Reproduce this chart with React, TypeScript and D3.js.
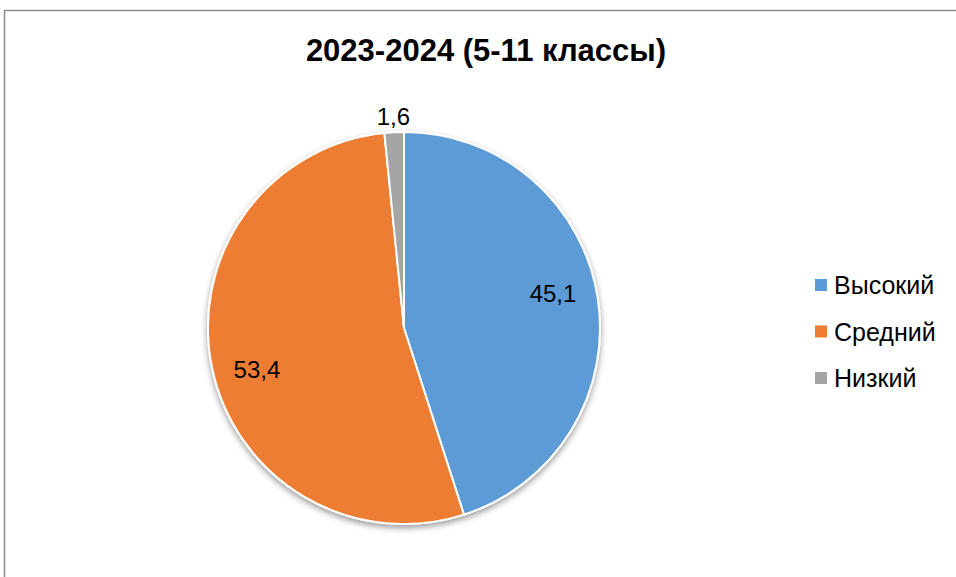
import React from "react";
import * as d3 from "d3";

// Chart data
const categories = ["Высокий", "Средний", "Низкий"];
const values = [45.1, 53.4, 1.6];
const colors = ["#5B9BD5", "#ED7D31", "#A5A5A5"];
const title = "2023-2024 (5-11 классы)";

const W = 956;
const H = 577;
const cx = 404;
const cy = 328;
const R = 196;

const fmt = (v: number) => v.toFixed(1).replace(".", ",");

const App: React.FC = () => {
  const pie = d3
    .pie<number>()
    .sort(null)
    .value((d) => d);
  const arcs = pie(values);

  const arc = d3.arc<d3.PieArcDatum<number>>().innerRadius(0).outerRadius(R);
  const labelArc = d3
    .arc<d3.PieArcDatum<number>>()
    .innerRadius(R * 0.78)
    .outerRadius(R * 0.78);
  const outerArc = d3
    .arc<d3.PieArcDatum<number>>()
    .innerRadius(R + 16)
    .outerRadius(R + 16);

  // legend rows
  const legendY = d3
    .scalePoint<string>()
    .domain(categories)
    .range([285, 378]);

  return (
    <svg
      width={W}
      height={H}
      style={{ position: "absolute", left: 0, top: 0, background: "#fff" }}
      fontFamily="'Liberation Sans', Arial, sans-serif"
    >
      <defs>
        <filter id="shadow" x="-20%" y="-20%" width="140%" height="140%">
          <feDropShadow dx="0" dy="3" stdDeviation="3" floodColor="#000" floodOpacity="0.4" />
        </filter>
      </defs>

      {/* outer border */}
      <rect x={4.5} y={10.5} width={W + 10} height={H + 10} fill="#fff" stroke="#8c8c8c" strokeWidth={1.5} />

      {/* title */}
      <text x={486} y={61} textAnchor="middle" fontSize={31} fontWeight="bold" fill="#000">
        {title}
      </text>

      {/* pie */}
      <g transform={`translate(${cx},${cy})`}>
        <g filter="url(#shadow)">
          {arcs.map((a, i) => (
            <path key={i} d={arc(a) || ""} fill={colors[i]} stroke="#fff" strokeWidth={2} />
          ))}
        </g>
        {arcs.map((a, i) => {
          const small = a.endAngle - a.startAngle < 0.2;
          // Excel's best-fit places the inside labels a little before the mid-angle
          const shifted = { ...a, startAngle: a.startAngle - 0.07, endAngle: a.endAngle - 0.07 };
          const [lx, ly] = small ? outerArc.centroid(a) : labelArc.centroid(shifted);
          return (
            <text
              key={i}
              x={lx}
              y={ly}
              textAnchor="middle"
              dominantBaseline="central"
              fontSize={24}
              fill="#000"
            >
              {fmt(values[i])}
            </text>
          );
        })}
      </g>

      {/* legend */}
      {categories.map((c, i) => (
        <g key={c} transform={`translate(815,${legendY(c)})`}>
          <rect x={0} y={-6} width={12} height={12} fill={colors[i]} />
          <text x={19} y={0} dominantBaseline="central" fontSize={25} fill="#000">
            {c}
          </text>
        </g>
      ))}
    </svg>
  );
};

export default App;
